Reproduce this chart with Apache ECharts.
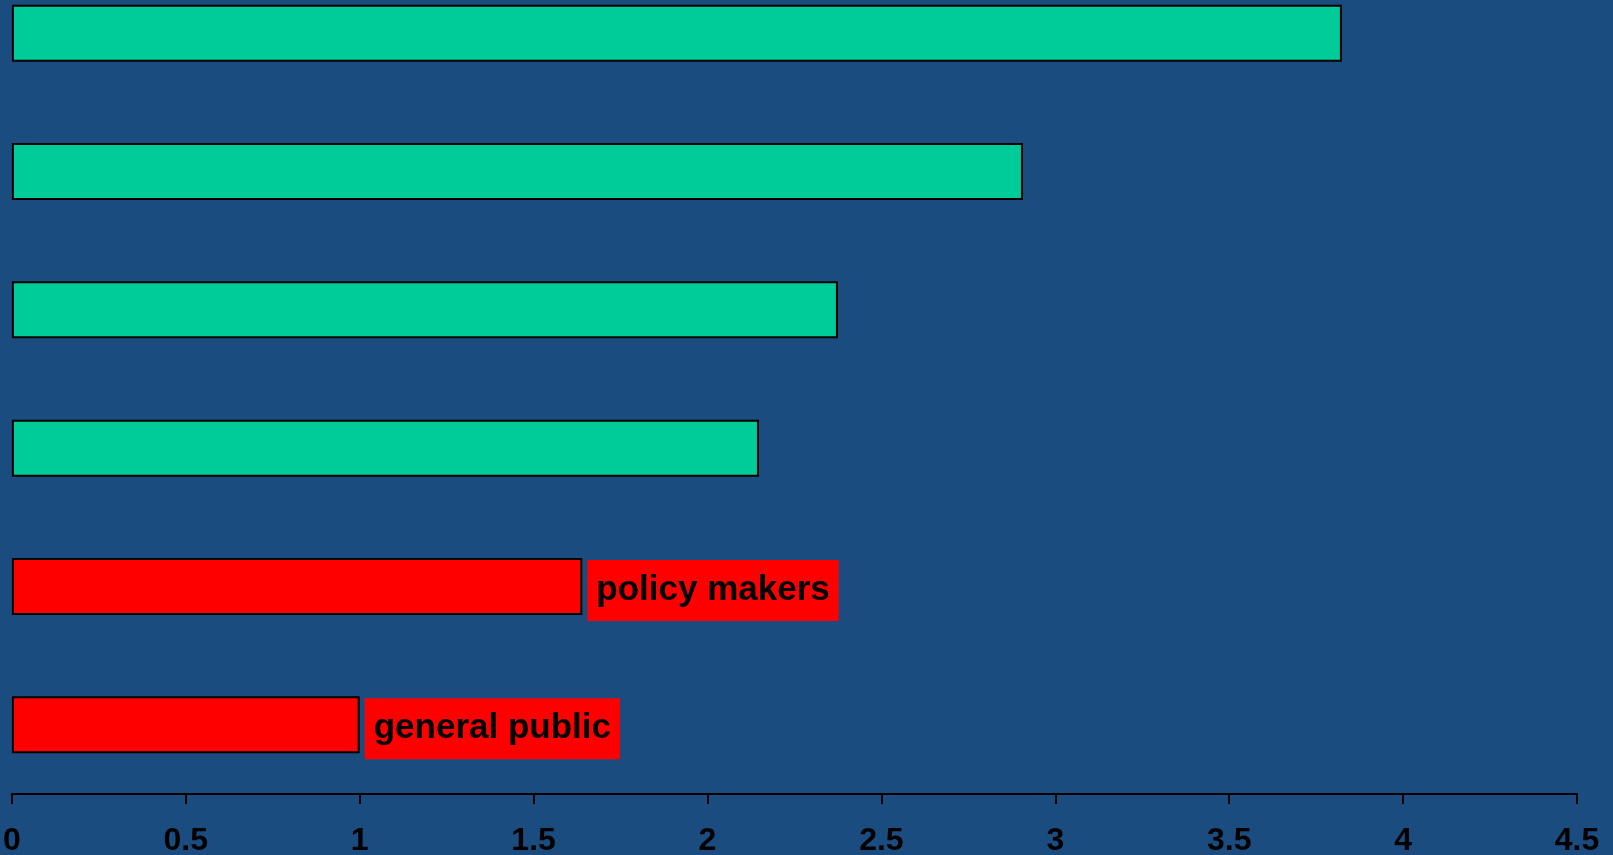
<!DOCTYPE html>
<html>
<head>
<meta charset="utf-8">
<script src="https://cdn.jsdelivr.net/npm/echarts@6/dist/echarts.min.js"></script>
<style>
html,body{margin:0;padding:0;background:#1B4C80;overflow:hidden;}
#chart{width:1613px;height:895px;margin-top:-36px;}
</style>
</head>
<body>
<div id="chart"></div>
<script>
// bottom to top
var categories = ['general public', 'policy makers', 'group 3', 'group 4', 'group 5', 'group 6'];
var values = [1.0, 1.64, 2.148, 2.375, 2.907, 3.824];
var barColors = ['#FF0000', '#FF0000', '#00CC99', '#00CC99', '#00CC99', '#00CC99'];
var barLabels = ['general public', 'policy makers', '', '', '', ''];
var xTicks = [0, 0.5, 1, 1.5, 2, 2.5, 3, 3.5, 4, 4.5];

var chart = echarts.init(document.getElementById('chart'));
var data = values.map(function (v, i) {
  var d = {
    value: v,
    itemStyle: { color: barColors[i], borderColor: '#000', borderWidth: 2 }
  };
  if (barLabels[i]) {
    d.label = {
      show: true,
      position: 'right',
      distance: 5,
      offset: [0, 4],
      formatter: barLabels[i],
      color: '#000',
      fontFamily: 'Liberation Sans, Arial, sans-serif',
      fontWeight: 'bold',
      fontSize: 35,
      backgroundColor: '#FF0000',
      padding: [13, 9, 13, 9]
    };
  }
  return d;
});

chart.setOption({
  backgroundColor: '#1B4C80',
  animation: false,
  grid: { left: 11, right: 36, top: 0, bottom: 65, containLabel: false },
  xAxis: {
    type: 'value',
    min: xTicks[0],
    max: xTicks[xTicks.length - 1],
    interval: 0.5,
    axisLine: { show: true, lineStyle: { color: '#000', width: 2 } },
    axisTick: { show: true, length: 10, lineStyle: { color: '#000', width: 2 } },
    splitLine: { show: false },
    axisLabel: {
      color: '#000',
      fontFamily: 'Liberation Sans, Arial, sans-serif',
      fontWeight: 'bold',
      fontSize: 32,
      margin: 31
    }
  },
  yAxis: {
    type: 'category',
    data: categories,
    axisLine: { show: false },
    axisTick: { show: false },
    axisLabel: { show: false },
    splitLine: { show: false }
  },
  series: [{
    type: 'bar',
    data: data,
    barWidth: 57
  }]
});
</script>
</body>
</html>
